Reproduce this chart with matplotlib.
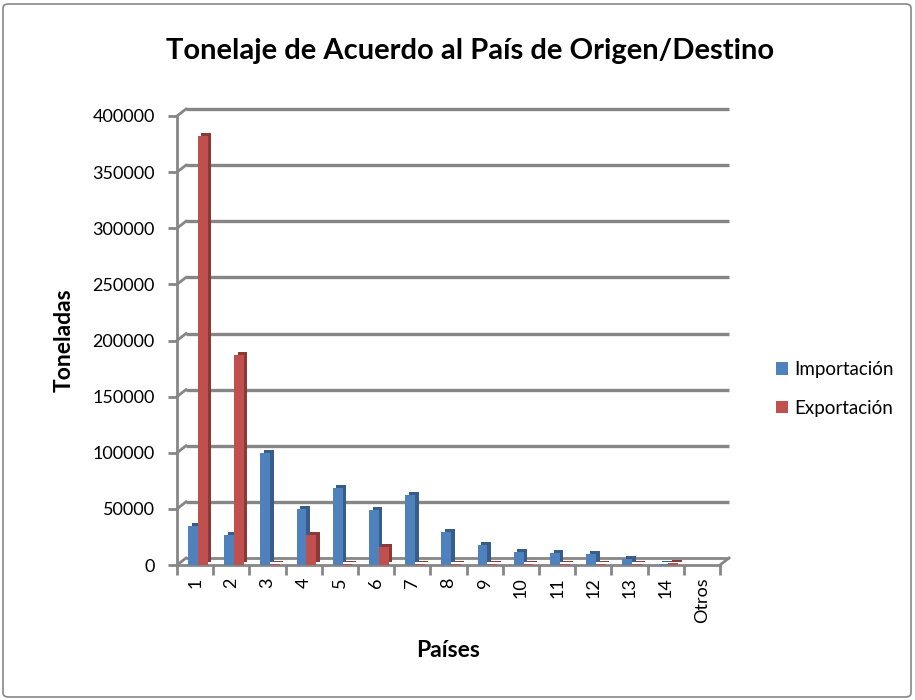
import matplotlib
matplotlib.use('Agg')
import matplotlib.pyplot as plt
from matplotlib import transforms
from matplotlib.patches import FancyBboxPatch
from matplotlib.lines import Line2D

categories = ['1', '2', '3', '4', '5', '6', '7', '8', '9', '10', '11', '12', '13', '14', 'Otros']
importacion = [35000, 27000, 100000, 50000, 69000, 49000, 62000, 29000, 18000,
               12000, 11000, 10000, 5000, 500, 400]
exportacion = [382000, 187000, 500, 27000, 500, 16000, 500, 500, 500,
               500, 500, 500, 500, 1500, 400]
yticks = [0, 50000, 100000, 150000, 200000, 250000, 300000, 350000, 400000]
series_names = ['Importación', 'Exportación']

plt.rcParams['font.family'] = ['Lato', 'DejaVu Sans']

W, H = 915, 700
fig = plt.figure(figsize=(W / 100, H / 100), dpi=100)
fig.patch.set_facecolor('white')

# chart border
border = FancyBboxPatch((3 / W, 3 / H), 1 - 7 / W, 1 - 7 / H,
                        boxstyle='round,pad=0,rounding_size=0.006',
                        transform=fig.transFigure, fill=False,
                        edgecolor='#868686', lw=1.2)
fig.patches.append(border)

ax = fig.add_axes([177 / W, 1 - 565 / H, (720 - 177) / W, (565 - 116) / H])
n = len(categories)
x = list(range(n))
ax.set_xlim(-0.5, n - 0.5)
ax.set_ylim(0, 400000)

grid_c = '#868686'
DX, DY = 9, 7
grid_tr = transforms.offset_copy(ax.transData, fig=fig, x=DX, y=DY, units='dots')
ax.hlines(yticks[1:], -0.5, n - 0.5, transform=grid_tr, color=grid_c, lw=2.4,
          zorder=0, clip_on=False)
ax.hlines([0], -0.5, n - 0.5, transform=grid_tr, color=grid_c, lw=2.0,
          zorder=0, clip_on=False)
# diagonal connectors at the left wall and floor right side
for yv in yticks:
    px, py = ax.transData.transform((-0.5, yv))
    ax.add_line(Line2D([px, px + DX], [py, py + DY], transform=transforms.IdentityTransform(),
                       color=grid_c, lw=2.0, zorder=0, clip_on=False))
px, py = ax.transData.transform((n - 0.5, 0))
ax.add_line(Line2D([px, px + DX], [py, py + DY], transform=transforms.IdentityTransform(),
                   color=grid_c, lw=2.0, zorder=0, clip_on=False))

# 3D-ish bars: darker shifted copy gives side/top faces
bw = 0.27
blue, blue_d = '#4F81BD', '#385D8A'
red, red_d = '#C0504D', '#8C3836'
side_tr = transforms.offset_copy(ax.transData, fig=fig, x=3.5, y=3, units='dots')
xb = [v - 0.06 for v in x]
xr = [v + 0.21 for v in x]
ax.bar(xb, importacion, width=bw, color=blue_d, transform=side_tr, zorder=2, lw=0)
ax.bar(xb, importacion, width=bw, color=blue, zorder=3, lw=0, label=series_names[0])
ax.bar(xr, exportacion, width=bw, color=red_d, transform=side_tr, zorder=4, lw=0)
ax.bar(xr, exportacion, width=bw, color=red, zorder=5, lw=0, label=series_names[1])

for s in ['top', 'right']:
    ax.spines[s].set_visible(False)
for s in ['left', 'bottom']:
    ax.spines[s].set_color(grid_c)
    ax.spines[s].set_linewidth(2.0)

ax.set_yticks(yticks)
ax.set_yticklabels([str(v) for v in yticks], fontsize=13)
ax.tick_params(axis='y', length=6.5, width=2, color=grid_c, pad=9.4)

ax.set_xticks(x)
ax.set_xticklabels(categories, rotation=90, fontsize=13)
ax.set_xticks([v - 0.5 for v in range(n + 1)], minor=True)
ax.tick_params(axis='x', which='major', length=0, pad=9)
ax.tick_params(axis='x', which='minor', length=7, width=2, color=grid_c)

ax.set_ylabel('Toneladas', fontsize=16.5, fontweight='bold', labelpad=13)
ax.set_xlabel('Países', fontsize=16.5, fontweight='bold', labelpad=12)

fig.text(470 / W, 1 - 51 / H, 'Tonelaje de Acuerdo al País de Origen/Destino',
         ha='center', va='center', fontsize=21, fontweight='bold')

leg = ax.legend(loc='center left', bbox_to_anchor=(776 / W, 1 - 389 / H),
                bbox_transform=fig.transFigure, frameon=False, fontsize=13.5,
                handlelength=0.65, handleheight=0.65, handletextpad=0.3,
                labelspacing=1.15, borderpad=0, borderaxespad=0)

fig.savefig('out.png', dpi=100)
